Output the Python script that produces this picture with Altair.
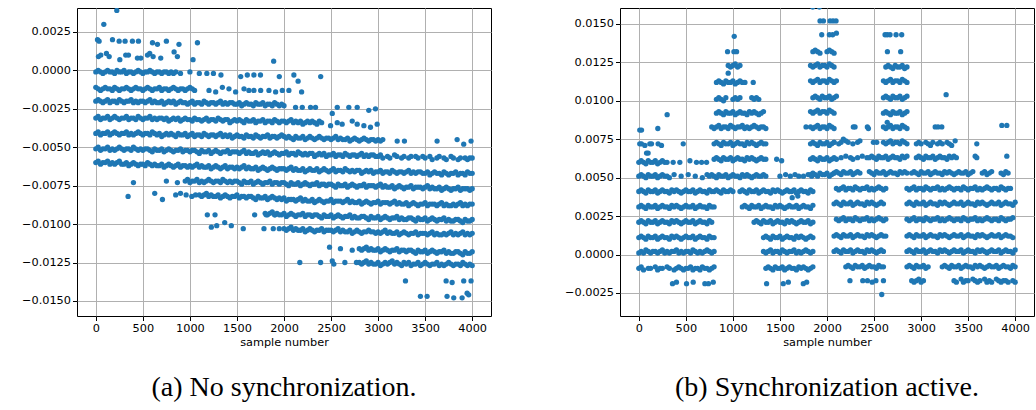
import altair as alt
import pandas as pd

# ---------------------------------------------------------------------------
# Values.
# Each band is a run of points spaced STEP samples apart, starting at the
# sample number given with it; values are in units of 1e-4 ms (None = no point).
# ---------------------------------------------------------------------------
STEP = 25
UNIT = 1e-4

X_TICKS = [0, 500, 1000, 1500, 2000, 2500, 3000, 3500, 4000]
A_Y_TICKS = [-0.015, -0.0125, -0.01, -0.0075, -0.005, -0.0025, 0.0, 0.0025]
B_Y_TICKS = [-0.0025, 0.0, 0.0025, 0.005, 0.0075, 0.01, 0.0125, 0.015]
CAPTION_A = "(a) No synchronization."
CAPTION_B = "(b) Synchronization active."
X_LABEL = "sample number"

# ----------------------------- panel (a) ----------------------------------
a_lvl_m01 = [-1, 0, -1, -2, -1, 0, -1, -1, -2, 0, -1, -1, 0, -2, -1, -1, -2, -1, 0, -1,
             -2, -1, -1, 0, -1, -2, -1, -1, -2, -1, -1, -2, -1, -2, -1]
a_lvl_m12 = [-11, -12, -13, -12, -11, -12, -12, -13, -11, -12, -13, -12, -12, -11, -12, -13,
             -12, -11, -12, -12, -13, -12, -11, -12, -13, -12, -12, -11, -13, -12, -12, -13,
             -12, -11, -12, -13, -12, -12, -13, -12, -11, -12, -13]
a_lvl_m20 = [-20, -19, -20, -21, -20, -19, -21, -20, -20, -21, -19, -20, -21, -20, -20, -19,
             -21, -20, -21, -20, -20, -21, -20, -19, -21, -20, -21, -21, -20, -22, -21, -20,
             -21, -20, -22, -21, -20, -21, -21, -22, -21, -20, -22, -21, -21, -22, -20, -21,
             -22, -21, -21, -22, -21, -20, -22, -21, -22, -21, -21, -22, -22, -21, -23, -22,
             -21, -22, -22, -23, -21, -22, -22, -21, -23, -22, -22, -23, -21, -22, -23, -22, -23]
a_lvl_m31 = [-31, -30, -32, -31, -31, -30, -32, -31, -30, -31, -32, -31, -31, -30, -32, -31,
             -31, -32, -30, -31, -32, -31, -31, -30, -32, -31, -32, -31, -31, -32, -31, -33,
             -32, -31, -32, -31, -33, -32, -31, -32, -32, -33, -31, -32, -32, -33, -32, -31,
             -33, -32, -32, -33, -31, -32, -33, -32, -32, -34, -33, -32, -33, -32, -33, -34,
             -32, -33, -33, -32, -34, -33, -33, -32, -34, -33, -33, -34, -32, -33, -34, -33,
             -33, -34, -33, -32, -34, -33, -34, -33, -35, -34, -33, -34, -33, -34, -35, -33, -34]
a_lvl_m41 = [-41, -40, -42, -41, -41, -40, -42, -41, -40, -41, -42, -41, -41, -40, -42, -41,
             -42, -41, -40, -41, -42, -41, -41, -42, -40, -41, -42, -41, -43, -42, -41, -42,
             -41, -42, -43, -41, -42, -42, -41, -43, -42, -41, -43, -42, -42, -43, -41, -42,
             -43, -42, -42, -43, -42, -41, -43, -42, -43, -42, -44, -43, -42, -43, -43, -44,
             -42, -43, -43, -44, -42, -43, -44, -43, -43, -42, -44, -43, -43, -44, -43, -42,
             -43, -44, -43, -44, -45, -43, -44, -44, -43, -45, -44, -43, -44, -45, -44, -43,
             -44, -45, -44, -44, -45, -44, -43, -45, -44, -45, -45, -44, -46, -45, -44, -45,
             -46, -45, -44, -45, -46, -45, -45, -46, -45, -46, -45]
a_lvl_m51 = [-51, -50, -52, -51, -51, -50, -52, -51, -52, -51, -50, -51, -52, -51, -51, -52,
             -50, -51, -52, -51, -52, -51, -51, -52, -53, -51, -52, -52, -51, -53, -52, -51,
             -52, -53, -52, -52, -51, -53, -52, -52, -53, -52, -52, -53, -54, -52, -53, -53,
             -52, -54, -53, -52, -53, -54, -53, -53, -52, -54, -53, -53, -53, -54, -53, -52,
             -54, -53, -54, -54, -53, -55, -54, -53, -54, -53, -55, -54, -53, -54, -55, -54,
             -54, -53, -55, -54, -54, -55, -53, -54, -55, -54, -55, -54, -54, -56, -55, -54,
             -55, -54, -56, -55, -55, -54, -56, -55, -55, -56, -54, -55, -56, -55, -55, -56,
             -55, -54, -56, -55, -56, -55, -55, -56, -56, -55, -57, None, -56, -57, None, -55,
             -56, None, -57, -56, None, -57, -56, None, -56, -57, None, -56, -57, None, -56, -58,
             None, -57, -56, None, -57, -58, None, -56, -57, None, -58, -57, None, -57, -58, -57,
             -57]
a_lvl_m60 = [-60, -59, -61, -60, -60, -59, -61, -60, -61, -60, -59, -61, -61, -60, -62, -61,
             -60, -61, -62, -61, -61, -62, -60, -61, -62, -61, -62, -62, -61, -63, -62, -61,
             -62, -63, -62, -61, -63, -62, -62, -63, -62, -63, -62, -61, -63, -62, -63, -63,
             -62, -64, -63, -62, -63, -64, -63, -62, -64, -63, -63, -64, -63, -64, -63, -62,
             -64, -63, -64, -64, -63, -65, -64, -63, -64, -65, -64, -63, -64, -65, -64, -64,
             -64, -65, -64, -63, -65, -64, -65, -65, -64, -66, -65, -64, -65, -65, -64, -66,
             -65, -64, -65, -66, -65, -64, -66, -65, -65, -66, -64, -65, -66, -65, -66, -65,
             -65, -67, -66, -65, -66, -65, -67, -66, -66, -65, -67, -66, -66, -67, -65, -66,
             -67, -66, -66, -67, -66, -65, -67, -66, -67, -66, -66, -67, -67, -66, -68, -67,
             -66, -67, -67, -68, -66, -67, -68, -67, -67, -66, -68, -67, -67, -68, -66, -67, -67]
a_lvl_m72 = [-72, -71, -73, -72, -72, -71, -73, -72, -73, -72, -71, -72, -73, -72, -72, -73,
             -71, -72, -73, -72, -73, -72, -72, -73, -74, -72, -73, -73, -72, -74, -73, -72,
             -73, -74, -73, -73, -72, -74, -73, -73, -74, -73, -73, -74, -75, -73, -74, -74,
             -73, -75, -74, -73, -74, -75, -74, -74, -73, -75, -74, -74, -75, -74, -74, -75,
             -76, -74, -75, -75, -74, -76, -75, -74, -75, -76, -75, -75, -74, -76, -75, -75,
             -75, -76, -75, -74, -76, -75, -76, -76, -75, -77, -76, -75, -76, -77, -76, -76,
             -75, -77, -76, -76, -76, -77, -76, -75, -77, -76, -77, -77, -76, -78, -77, -76,
             -77, -78, -77, -77, -76, -78, -77, -77, -77, -78, -77]
a_lvl_m81 = [-81, -82, -81, -80, -82, -81, -82, -82, -81, -83, -82, -81, -82, -83, -82, -82,
             -81, -83, -82, -82, -83, -82, -82, -83, -84, -82, -83, -83, -82, -84, -83, -82,
             -83, -84, -83, -84, -83, -85, -84, -84, -84, -85, -84, -83, -85, -84, -85, -85,
             -84, -86, -85, -84, -85, -86, -85, -85, -84, -86, -85, -85, -85, -86, -85, -84,
             -86, -85, -86, -86, -85, -87, -86, -85, -86, -87, -86, -86, -85, -87, -86, -86,
             -86, -87, -86, -85, -87, -86, -87, -87, -86, -88, -87, -86, -87, -88, -87, -87,
             -86, -88, -87, -87, -87, -88, -87, -86, -88, -87, -88, -88, -87, -88, -87, -86,
             -88, -87, -88, -87, -87]
a_lvl_m93 = [-93, -94, -93, -92, -94, -93, -94, -94, -93, -95, -94, -93, -94, -95, -94, -94,
             -93, -95, -94, -94, -95, -94, -94, -95, -96, -94, -95, -95, -94, -96, -95, -94,
             -95, -96, -95, -95, -94, -96, -95, -96, -96, -95, -95, -96, -97, -95, -96, -96,
             -95, -97, -96, -95, -96, -97, -96, -96, -95, -97, -96, -97, -97, -96, -96, -97,
             -98, -96, -97, -97, -96, -98, -97, -96, -97, -98, -97, -97, -96, -98, -97, -98,
             -98, -97, -97, -98, -99, -97, -98, -98, -97]
a_lvl_m103 = [-103, -104, -103, -102, -104, -103, -104, -104, -103, -105, -104, -103, -104,
              -105, -104, -104, -103, -105, -104, -104, -104, -105, -104, -103, -105, -104,
              -105, -105, -104, -106, -105, -104, -105, -106, -105, -105, -104, -105, -105,
              -106, -105, -106, -105, -104, -106, -105, -106, -106, -105, -107, -106, -105,
              -106, -107, -106, -106, -105, -107, -106, -106, -106, -107, -106, -105, -107,
              -106, -107, -107, -106, -107, -106, -105, -107, -106, -107, -106, -105, -107,
              -106, -107, -106]
a_lvl_m116 = [-116, -117, -116, -115, -117, -116, -117, -117, -116, -118, -117, -116, -117,
              -118, -117, -117, -116, -118, -117, -117, -118, -117, -117, -118, -119, -117,
              -118, -118, -117, -119, -118, -117, -118, -119, -118, -118, -117, -119, -118,
              -119, -119, -118, -118, -119, -120, -118, -119, -119, -118]
a_lvl_m125 = [-125, -126, -125, -124, -126, -125, -126, -126, -125, -127, -126, -125, -126,
              -125, -124, -126, -125, -126, -127, -125, -126, -125, -127, -126, -126, -125,
              -127, -126, -125, -126, -127, -126, -126, -125, -127, -126, -127, -126, -125,
              -126, -127, -126, -126, -127, -125, -126, -127, -126, -127]

a_bands = [
    (0, a_lvl_m01), (0, a_lvl_m12), (0, a_lvl_m20), (0, a_lvl_m31), (0, a_lvl_m41),
    (0, a_lvl_m51), (0, a_lvl_m60), (950, a_lvl_m72), (1100, a_lvl_m81),
    (1800, a_lvl_m93), (2000, a_lvl_m103), (2800, a_lvl_m116), (2800, a_lvl_m125),
]

# isolated points of panel (a): sample number and value (1e-4 ms)
a_free_x = [18, 35, 177, 248, 311, 389, 453, 602, 655, 750, 884, 1080,
            28, 53, 113, 142, 255, 318, 347, 442, 478, 549, 573, 609, 690, 832, 867, 1033,
            85, 223, 1890,
            900, 1000, 1100, 1180, 1250, 1330, 1540, 1610, 1680, 1750, 1950, 2105, 2150, 2390,
            1203, 1274, 1345, 1415, 1486, 1575, 1627, 1680, 1752, 1840, 1911, 1982, 2052, 2187,
            2123, 2194, 2282, 2335, 2513, 2566, 2689, 2778, 2901, 2972,
            2495, 2566, 2618, 2725, 2778, 2849, 2919, 2990,
            3203, 3280, 3627, 3840, 3910, 3988,
            400, 343, 626, 708, 750, 867, 849, 900, 960, 1020, 1060,
            1185, 1267, 1228, 1285, 1370, 1440, 1567, 1688, 1787, 1810, 1886, 1905, 1950,
            2168, 2389, 2513, 2530, 2647, 2770, 2484, 2600, 2725,
            3291, 3450, 3521, 3723, 3787, 3733, 3804, 3893, 3910, 3946, 3963, 3988]
a_free_v = [20, 19, 20, 19, 19, 19, 19, 18, 17, 19, 17, 18,
            9, 10, 11, 9, 7, 10, 10, 8, 8, 10, 11, 9, 8, 12, 9, 7,
            30, 39, 6,
            -2, -1, -2, -2, -2, -3, -4, -3, -3, -3, -4, -3, -7, -4,
            -13, -14, -11, -12, -14, -12, -13, -13, -13, -13, -14, -13, -13, -14,
            -24, -24, -24, -24, -28, -24, -24, -24, -26, -25,
            -36, -34, -35, -33, -35, -36, -37, -35,
            -46, -46, -46, -45, -48, -46,
            -73, -82, -80, -84, -72, -73, -81, -80, -81, -82, -81,
            -94, -94, -102, -101, -99, -101, -103, -94, -103, -94, -103, -94, -103,
            -125, -125, -124, -126, -125, -125, -115, -116, -117,
            -137, -147, -147, -137, -138, -147, -148, -148, -137, -145, -146, -137]

# ----------------------------- panel (b) ----------------------------------
b_s1_m09 = [-9, -8, -10, None, -9, -9, None, -8, -10, -9, -9, None, -8, -9, None, -10, -9,
            -8, -9, -10, -9, -9, -8, -10, -9, -9, -10, -8, -9, -9, -10, -9, -8]
b_s1_p02 = [1, 2, 1, 3, 2, 1, 2, 2, 1, 2, 3, 1, 2, 1, 2, 2, 3, 1, 2, 1, 2, 2, 1, 3, 2, 1,
            2, 1, 2, 3, 2, 1, 2]
b_s1_p11 = [11, 12, 11, 10, 12, 11, 11, 12, 10, 11, 12, 11, 11, 10, 12, 11, 12, 11, 10, 11,
            12, 11, 11, 12, 10, 11, 12, 11, 11, 10, 12, 11, 11]
b_s1_p21 = [21, 22, 21, 20, 22, 21, 21, 22, 20, 21, 22, 21, 21, 20, 22, 21, 22, 21, 20, 21,
            22, 21, 21, 22, 20, 21, 22, 21, 21, 20, 22, 21]
b_s1_p31 = [31, 32, 31, 30, 32, 31, 31, 32, 30, 31, 32, 31, 31, 30, 32, 31, 32, 31, 30, 31,
            32, 31, 31, 32, 30, 31, 32, 31, 31, 30, 32, 31, 31]
b_s1_p41 = [41, 42, 41, 40, 42, 41, 41, 42, 40, 41, 42, 41, 41, 40, 42, 41, 42, 41, 40, 41,
            42, 41, 41, 42, 40, 41, 42, 41, 41, 40, 42, 41, 41, 42, 41, 40, 42, 41, 41, 42, 41]
b_s1_p51 = [51, 52, 51, 50, 52, 51, 51, 52, 50, 51, 52, 51, 51, 50,
            None, 52, None, None, 51, None, None, 52, None, None, 51, None, None, 50, None, 52,
            51, 52, 51, 50, 52, 51, 51, 52, 50, 51, 52, 51, 51, 50, 52, 51, 52, 51, 50, 51,
            52, 51, 51, 52, 51]
b_s1_p60 = [60, 61, 60, 59, 61, 60, 60, 61, 59, 60, 61, 60, 60]
b_k1_p62 = [62, 63, 62, 61, 63, 62, 62, 63, 61, 62, 63, 62, 62, 61, 63, 62, 63, 62, 61, 62,
            63, 62, 62]
b_k1_p72 = [72, 73, 72, 71, 73, 72, 72, 73, 71, 72, 73, 72, 72, 71, 73, 72, 73, 72, 71, 72,
            73, 72, 72]
b_k1_p83 = [83, 82, 83, 84, 82, 83, 83, 82, 84, 83, 82, 83, 83, 84, 82, 83, 82, 83, 84, 83,
            82, 83, 83, 82]
b_k1_p92 = [92, 93, 92, 91, 93, 92, 92, 93, 91, 92, 93, 92, 92, 91, 93, 92, 93, 92, 91, 92, 93]
b_k1_p101 = [101, 102, 101, 100, 102, None, None, 101, 102, 101, 102, None, None, None, None,
             102, 101, 102, 101]
b_k1_p112 = [112, 113, 112, 111, 113, 112, 112, 113, 111, 112, 113, 112]
b_k1_p123 = [123, 122, 123, 124, 122, 123]
b_s3_p41 = [41, 42, 41, 40, 42, 41, 41, 42, 40, 41, 42, 41, 41, 40, 42, 41, 42, 41, 40, 41,
            42, 41, 41, 42, 40, 41, 42, 41, 41, 40, 42, 41]
b_s3_p31 = [31, 32, 31, 30, 32, 31, 31, 32, 30, 31, 32, 31, 31, 30, 32, 31, 32, 31, 30, 31,
            32, 31, 31, 32, 30, 31, 32, 31, 31, 30, 32]
b_s3_p21 = [21, 22, 21, 20, 22, 21, 21, 22, 20, 21, 22, 21, 21, 20, 22, 21, 22, 21, 20, 21,
            22, 21, 21, 22, 20, 21]
b_s3_p11 = [11, 12, 11, 10, 12, 11, 11, 12, 10, 11, 12, 11, 11, 10, 12, 11, 12, 11, 10, 11,
            12, 11]
b_s3_p02 = [2, 1, 2, 3, 1, 2, 2, 1, 3, 2, 1, 2, 2, 3, 1, 2, 1, 2, 3, 2, 1, 2]
b_s3_m09 = [-9, -8, -9, -10, -8, -9, -9, -8, -10, -9, -8, -9, -9, -10, -8, -9, -8, -9, -10,
            -9, -8]
b_k2_p52 = [52, 53, 52, 51, 53, 52, 52, 53, 51, 52, 53]
b_k2_p62 = [62, 63, 62, 61, 63, 62, 62, 63, 61, 62, 63, 62]
b_k2_p72 = [72, 73, 72, 71, 73, 72, 72, 73, 71, 72, 73]
b_k2_p83 = [83, 82, 83, 84, 82, 83, 83, 82, 84, 83, 82]
b_k2_p93 = [93, 92, 93, 94, 92, 93, 93, 92, 94, 93, 92]
b_k2_p102 = [102, 103, 102, 101, 103, 102, 102, 103, 101, 102, 103]
b_k2_p113 = [113, 112, 113, 114, 112, 113, 113, 112, 114, 113, 112, 113]
b_k2_p123 = [123, 122, 123, 124, 122, 123, 123, 122, 124, 123, 122]
b_k2_p132 = [132, 133, 132, 131, None, None, 132, 133, 132, 131]
b_s5_m08 = [-8, -7, -8, -9, -7, -8, -8, -7, -9, -8, -7, -8, -8, -9, -7, -8, -8]
b_s5_p02 = [2, 3, 2, 1, 3, 2, 2, 3, 1, 2, 3, 2, 2, 1, 3, 2, 3, 2, 1, 2, 3, 2]
b_s5_p12 = [12, 13, 12, 11, 13, 12, 12, 13, 11, 12, 13, 12, 12, 11, 13, 12, 13, 12, 11, 12,
            13, 12, 12]
b_s5_p23 = [23, 22, 23, 24, 22, 23, 23, 22, 24, 23, 22, 23, 23, 24, 22, 23, 22, 23, 24, 23,
            22, 23]
b_s5_p33 = [33, 34, 33, 32, 34, 33, 33, 34, 32, 33, 34, 33, 33, 32, 34, 33, 34, 33, 32, 33,
            34, 33]
b_s5_p43 = [43, 42, 43, 44, 42, 43, 43, 42, 44, 43, 42, 43, 43, 44, 42, 43, 42, 43, 44, 43,
            42, 43]
b_s5_p53 = [53, 54, 53, 52, 54, 53, 53, 54, 52, 53, 54, 53, None, None, None, 54, 53, 52,
            54, 53, 53, 54, 52, 53, 54, 53, 53, 52, 54, 53, 54, 53]
b_s5_p63 = [63, None, 64, None, 63, 62, None, 63, None, 64, None, 63,
            63, 64, 63, 62, 64, 63, 63, 64, 62, 63, 64, 63, 63, 62, 64, 63, 64]
b_s5_p73 = [73, None, 72, 73, None, 74, 73, None, 72, None, 73, 74]
b_k3_p73 = [73, 72, 73, 74, 72, 73, 73, 72, 74, 73, 72]
b_k3_p83 = [83, 82, 83, 84, 82, 83, 83, 82, 84, 83, 82]
b_k3_p92 = [92, 93, 92, 91, 93, 92, 92, 93, 91, 92, 93]
b_k3_p102 = [102, 103, 102, 101, 103, 102, 102, 103, 101, 102, 103]
b_k3_p113 = [113, 112, 113, 114, 112, 113, 113, 112, 114, 113, 112]
b_k3_p122 = [122, 123, 122, 121, 123, 122, 122, 123, 121, 122]
b_s7_m17 = [-17, -18, -17, -16, -18, -17,
            None, None, None, None, None, None, None, None, None, None, None, None,
            -17, -18, None, -16, -18, -17, -17, None, -16, -17, -18, -17, None, -16, -18,
            -17, -18, None, -16, -17, -18, -17, -17, -18, None, -17, -18]
b_s7_m08 = [-8, -7, -8, -9, -7, -8, -8, -7, -9, -8,
            None, None, None, None, None,
            -8, -7, -8, -9, -7, -8, -8, -7, -9, -8, -7, -8, -8, -9, -7, -8, -7, -8, -9, -8,
            -7, -8, -8, -7, -9, -8, -7, -8, -8, -9, -7, -8]
b_s7_p02 = [2, 3, 2, 1, 3, 2, 2, 3, 1, 2, 3, 2, 2, 1, 3, 2, 3, 2, 1, 2, 3, 2, 2, 3, 1, 2,
            3, 2, 2, 1, 3, 2, 3, 2, 1, 2, 3, 2, 2, 3, 1, 2, 3, 2, 2, 1, 3]
b_s7_p12 = [12, 13, 12, 11, 13, 12, 12, 13, 11, 12, 13, 12, 12, 11, 13, 12, 13, 12, 11, 12,
            13, 12, 12, 13, 11, 12, 13, 12, 12, 11, 13, 12, 13, 12, 11, 12, 13, 12, 12, 13,
            11, 12, 13, 12, 12, 11]
b_s7_p23 = [23, 22, 23, 24, 22, 23, 23, 22, 24, 23, 22, 23, 23, 24, 22, 23, 22, 23, 24, 23,
            22, 23, 23, 22, 24, 23, 22, 23, 23, 24, 22, 23, 22, 23, 24, 23, 22, 23, 23, 22,
            24, 23, 22, 23, 23, 24]
b_s7_p33 = [33, 34, 33, 32, 34, 33, 33, 34, 32, 33, 34, 33, 33, 32, 34, 33, 34, 33, 32, 33,
            34, 33, 33, 34, 32, 33, 34, 33, 33, 32, 34, 33, 34, 33, 32, 33, 34, 33, 33, 34,
            32, 33, 34, 33, 33, 32, 34]
b_s7_p43 = [43, 42, 43, 44, 42, 43, 43, 42, 44, 43, 42, 43, 43, 44, 42, 43, 42, 43, 44, 43,
            42, 43, 43, 42, 44, 43, 42, 43, 43, 44, 42, 43, 42, 43, 44, 43, 42, 43, 43, 42,
            44, 43, 42, 43, 43]
b_s7_p53 = [53, 54, 53, 52, 54, 53, 53, 54, 52, 53, 54, 53, 53, 52, 54, 53, 54, 53, 52, 53,
            54, 53, 53, 54, 52, 53, 54, None, None, None, 53, 54, 52, 53, 54, None, None, None,
            53, 52, 54, 53]
b_s7_p63 = [63, 64, 63, 62, 64, 63, 63, 64, 62, 63, 64, 63, 63, 62, 64, 63, 64, 63]
b_s7_p73 = [72, 73, 72, None, 73, 72, 71, 73, None, 72, 73, 72, None, 73, 72, 71]

b_bands = [
    (0, b_s1_m09), (0, b_s1_p02), (0, b_s1_p11), (0, b_s1_p21), (0, b_s1_p31),
    (0, b_s1_p41), (0, b_s1_p51), (0, b_s1_p60),
    (800, b_k1_p62), (800, b_k1_p72), (775, b_k1_p83), (825, b_k1_p92),
    (825, b_k1_p101), (825, b_k1_p112), (950, b_k1_p123),
    (1075, b_s3_p41), (1100, b_s3_p31), (1225, b_s3_p21), (1325, b_s3_p11),
    (1325, b_s3_p02), (1350, b_s3_m09),
    (1825, b_k2_p52), (1825, b_k2_p62), (1825, b_k2_p72), (1825, b_k2_p83),
    (1825, b_k2_p93), (1850, b_k2_p102), (1825, b_k2_p113), (1825, b_k2_p123),
    (1850, b_k2_p132),
    (2200, b_s5_m08), (2075, b_s5_p02), (2075, b_s5_p12), (2100, b_s5_p23),
    (2075, b_s5_p33), (2100, b_s5_p43), (2075, b_s5_p53), (2150, b_s5_p63),
    (2075, b_s5_p73),
    (2600, b_k3_p73), (2600, b_k3_p83), (2600, b_k3_p92), (2600, b_k3_p102),
    (2600, b_k3_p113), (2625, b_k3_p122),
    (2900, b_s7_m17), (2850, b_s7_m08), (2850, b_s7_p02), (2850, b_s7_p12),
    (2850, b_s7_p23), (2850, b_s7_p33), (2850, b_s7_p43), (2900, b_s7_p53),
    (2950, b_s7_p63), (2950, b_s7_p73),
]

b_free_x = [10, 29, 202, 301, 10, 28, 64, 117, 135, 205, 241, 472, 82, 99,
            365, 436, 543, 613, 667, 720,
            358, 400, 507, 578, 702, 740, 791,
            1128, 1216, 950, 943, 1011, 1039, 1014,
            1358, 1535, 1589, 1748, 1784,
            1500, 1560, 1610, 1660, 1700, 1750, 1800, 1837, 1465, 1518, 1630, 1690,
            1944, 2025, 2060, 2100, 1926, 1962, 2032, 2064, 2096, 1848, 1919, 1848, 1777,
            2244, 2380, 2430, 2480, 2520, 2600, 2280, 2298, 2429, 2440, 2174, 2582,
            2493, 2529,
            2617, 2640, 2670, 2734, 2794, 2642, 2783, 2640,
            3575, 3592, 3911, 3362, 3592, 3150, 3180, 3220, 3266, 3858, 3911]
b_free_v = [81, 81, 82, 91, 72, 72, 71, 72, 72, 72, 71, 72, 66, 66,
            60, 60, 61, 60, 60, 60,
            -19, -18, -19, -18, -19, -19, -18,
            112, 112, 118, 132, 132, 132, 142,
            -19, -19, -18, -19, -18,
            51, 52, 51, 52, 51, 51, 52, 51, 62, 61, 37, 38,
            143, 143, 143, 144, 152, 152, 152, 152, 152, 161, 161, 166, 83,
            -17, -17, -17, -18, -17, -17, 83, 83, 83, 82, 75, -26,
            73, 73,
            143, 143, 143, 143, 143, 132, 132, 86,
            64, 63, 64, 74, 72, 83, 83, 83, 104, 84, 84]


def build_table(bands, free_x, free_v):
    rows = []
    for start, values in bands:
        for i, v in enumerate(values):
            if v is not None:
                rows.append({"sample": start + STEP * i, "diff": v * UNIT})
    for x, v in zip(free_x, free_v):
        rows.append({"sample": x, "diff": v * UNIT})
    return pd.DataFrame(rows)


df_a = build_table(a_bands, a_free_x, a_free_v)
df_b = build_table(b_bands, b_free_x, b_free_v)

BLUE = "#1f77b4"
PLOT_W = 414
PLOT_H = 308


def panel(df, ydomain, yticks, caption):
    return alt.Chart(df).mark_circle(size=28, color=BLUE, opacity=1, clip=True).encode(
        x=alt.X("sample:Q",
                scale=alt.Scale(domain=[-200, 4200], nice=False, zero=False),
                axis=alt.Axis(values=X_TICKS, format="d", title=X_LABEL)),
        y=alt.Y("diff:Q",
                scale=alt.Scale(domain=ydomain, nice=False, zero=False),
                axis=alt.Axis(values=yticks, format=".4f", title=None)),
    ).properties(
        width=PLOT_W, height=PLOT_H,
        title=alt.TitleParams(caption, orient="bottom", anchor="middle", offset=26),
    )


pa = panel(df_a, [-0.01598, 0.00406], A_Y_TICKS, CAPTION_A)
pb = panel(df_b, [-0.0040, 0.01604], B_Y_TICKS, CAPTION_B)

chart = alt.hconcat(pa, pb, spacing=129, bounds="flush").properties(
    padding={"left": 21, "top": 7, "right": 0, "bottom": 0}
).configure_view(
    stroke="#000000", strokeWidth=1
).configure_axis(
    grid=True, gridColor="#b0b0b0", gridWidth=1,
    domain=False, ticks=True, tickColor="#000000", tickSize=4.5, tickWidth=1,
    labelFont="DejaVu Sans", labelFontSize=11.3, labelColor="#000000", labelPadding=2,
    titleFont="DejaVu Sans", titleFontSize=11.3, titleFontWeight="normal",
    titleColor="#000000", titlePadding=3,
).configure_title(
    font="Liberation Serif", fontSize=28, fontWeight="normal", color="#000000",
)

chart.save("out.html", embed_options={"renderer": "svg", "actions": False})
